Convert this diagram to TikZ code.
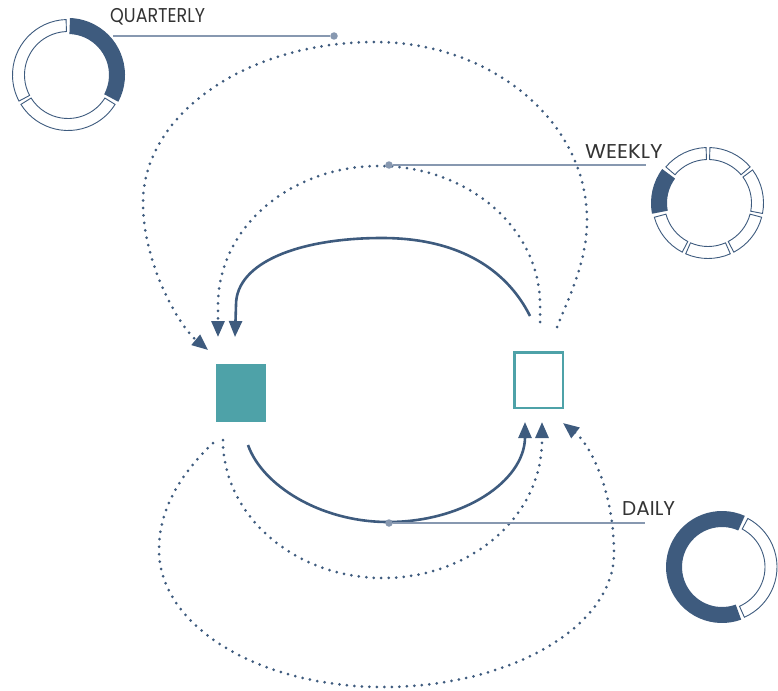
\documentclass[tikz,border=0pt]{standalone}
\usepackage{fontspec}
\setmainfont{Poppins}
\usetikzlibrary{arrows.meta,calc}
\definecolor{navy}{RGB}{62,91,126}
\definecolor{tealc}{RGB}{78,162,168}
\definecolor{leader}{RGB}{135,152,176}
\definecolor{txt}{RGB}{51,51,51}
\newcommand{\ringseg}[6]{(#1,#2) ++({-(#3)}:#6) arc[start angle={-(#3)}, end angle={-(#4)}, radius=#6] -- ($(#1,#2)+({-(#4)}:#5)$) arc[start angle={-(#4)}, end angle={-(#3)}, radius=#5] -- cycle}
\begin{document}
\begin{tikzpicture}[x=1pt,y=-1pt,
  flow/.style={navy, line width=2.6pt, -{Triangle[length=16pt,width=13pt]}},
  dotflow/.style={navy, line width=3pt, line cap=round, dash pattern=on 0pt off 7.5pt, -{Triangle[length=16pt,width=13pt]}},
  lead/.style={leader, line width=2pt},
  leaddot/.style={circle, fill=leader, inner sep=0pt, minimum size=7.5pt},
  lbl/.style={anchor=base west, inner sep=0pt, text=txt, font=\fontsize{20}{20}\selectfont},
  segfull/.style={fill=navy, draw=none},
  segempty/.style={fill=white, draw=navy, line width=0.9pt},
]
\useasboundingbox (0,0) rectangle (778,690);

% squares
\node[fill=tealc, minimum width=50pt, minimum height=58pt, inner sep=0pt] (src) at (241,393) {};
\node[draw=tealc, line width=2.5pt, minimum width=48.5pt, minimum height=55.5pt, inner sep=0pt] (dst) at (538.5,380) {};

% curve coordinates
\coordinate (ts) at (530,316); \coordinate (tt) at (382,238); \coordinate (tl) at (236,305); \coordinate (te) at (235,337);
\coordinate (ws) at (540,322); \coordinate (wr) at (540,305); \coordinate (wt) at (379,166); \coordinate (wl) at (218,305); \coordinate (we) at (218,337);
\coordinate (qs) at (557,327); \coordinate (qr) at (587,220); \coordinate (qt) at (375,42); \coordinate (ql) at (143,203); \coordinate (qe) at (208,350);
\coordinate (bs) at (248,445); \coordinate (bm) at (388,522); \coordinate (br) at (525,438); \coordinate (be) at (525,422);
\coordinate (ds) at (223,440); \coordinate (dm) at (383,578); \coordinate (dr) at (542,440); \coordinate (de) at (542,422);
\coordinate (os) at (213,443); \coordinate (ol) at (159,550); \coordinate (om) at (383,687); \coordinate (or) at (614,553); \coordinate (oe) at (563,423);

% top curves
\draw[flow] (ts) .. controls (508,272) and (462,238) .. (tt) .. controls (300,238) and (236,262) .. (tl) -- (te);
\draw[dotflow] (ws) -- (wr) .. controls (540,228) and (468,166) .. (wt) .. controls (290,166) and (218,228) .. (wl) -- (we);
\draw[dotflow] (qs) .. controls (569,297) and (587,262) .. (qr) .. controls (587,122) and (492,42) .. (qt) .. controls (247,42) and (143,114) .. (ql) .. controls (143,262) and (178,325) .. (qe);

% bottom curves
\draw[flow] (bs) .. controls (262,485) and (320,522) .. (bm) .. controls (464,522) and (524,481) .. (br) -- (be);
\draw[dotflow] (ds) .. controls (223,516) and (295,578) .. (dm) .. controls (471,578) and (542,516) .. (dr) -- (de);
\draw[dotflow] (os) .. controls (185,470) and (159,505) .. (ol) .. controls (159,626) and (259,687) .. (om) .. controls (510,687) and (614,627) .. (or) .. controls (614,495) and (592,446) .. (oe);

% rings: quarterly
\path[segfull] \ringseg{68}{75}{-28}{88}{41}{57};
\path[segempty] \ringseg{68}{75}{92}{208}{43.5}{55.5};
\path[segempty] \ringseg{68}{75}{212}{328}{43.5}{55.5};
% weekly
\path[segempty] \ringseg{708}{203}{92}{139.43}{43.5}{55.5};
\path[segfull] \ringseg{708}{203}{143.43}{190.86}{41}{57};
\path[segempty] \ringseg{708}{203}{194.86}{242.29}{43.5}{55.5};
\path[segempty] \ringseg{708}{203}{246.29}{293.71}{43.5}{55.5};
\path[segempty] \ringseg{708}{203}{297.71}{345.14}{43.5}{55.5};
\path[segempty] \ringseg{708}{203}{349.14}{396.57}{43.5}{55.5};
\path[segempty] \ringseg{708}{203}{400.57}{448}{43.5}{55.5};
% daily
\path[segfull] \ringseg{722}{567}{66}{290}{40}{56};
\path[segempty] \ringseg{722}{567}{-66}{62}{43}{55};

% leaders
\node[leaddot] (qd) at (334,36) {};
\coordinate (qa) at (113,36);
\draw[lead] (qa) -- (qd);
\node[leaddot] (wd) at (389,165) {};
\coordinate (wa) at (646,165);
\draw[lead] (wd) -- (wa);
\node[leaddot] (dd) at (389,523) {};
\coordinate (da) at (645,523);
\draw[lead] (dd) -- (da);

% labels
\node[lbl] (qlab) at (110,23) {\scalebox{0.875}[1]{QUARTERLY}};
\node[lbl] (wlab) at (585,158) {\scalebox{1.07}[1]{WEEKLY}};
\node[lbl] (dlab) at (622,515) {DAILY};
\end{tikzpicture}
\end{document}
